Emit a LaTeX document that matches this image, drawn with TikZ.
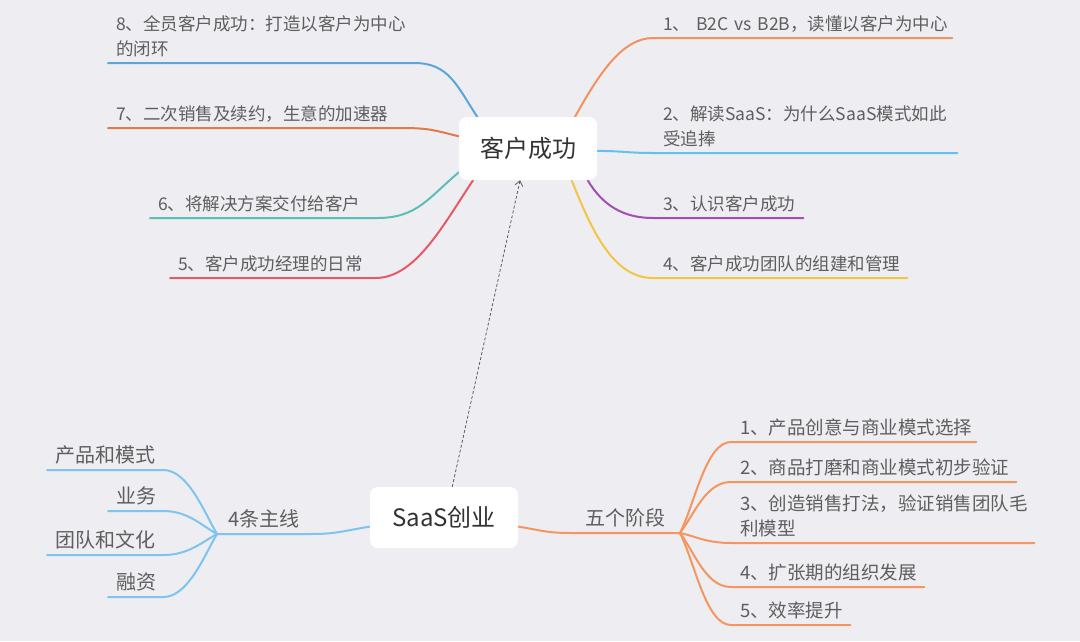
\documentclass[tikz,border=0pt]{standalone}
\usepackage{fontspec}
\setmainfont{Noto Sans CJK SC}
\usepackage{tikz}
\usetikzlibrary{positioning,calc,backgrounds,arrows.meta}

\definecolor{bggray}{HTML}{EEEEF2}
\definecolor{rootgray}{HTML}{333333}
\definecolor{leafgray}{HTML}{5E5E5E}
\definecolor{lineblue}{HTML}{5AA6DA}
\definecolor{linerust}{HTML}{E07A4A}
\definecolor{lineteal}{HTML}{5BBFB5}
\definecolor{linered}{HTML}{E65A66}
\definecolor{lineorange}{HTML}{F39260}
\definecolor{linesky}{HTML}{5EC3EE}
\definecolor{linepurple}{HTML}{A34DB5}
\definecolor{lineyellow}{HTML}{F3C546}
\definecolor{mainlineblue}{HTML}{7DC4EE}
\definecolor{stageorange}{HTML}{F5955F}

\tikzset{
  rootbox/.style={fill=white, rounded corners=8pt, inner sep=0pt, text=rootgray,
    font=\fontsize{24}{30}\selectfont},
  leaf/.style={anchor=south west, inner xsep=8pt, inner ysep=0pt, align=left, text=leafgray,
    font=\fontsize{17.5}{25}\selectfont, execute at begin node=\strut, execute at end node=\strut},
  bigleaf/.style={leaf, font=\fontsize{20}{25}\selectfont, align=right},
  stageleaf/.style={leaf, inner xsep=9pt, font=\fontsize{18.5}{24.5}\selectfont},
  hub/.style={inner sep=0pt, text=leafgray, font=\fontsize{20}{25.5}\selectfont,
    execute at begin node=\strut},
  branch/.style={line width=2pt, line cap=round},
  link/.style={draw=leafgray, line width=0.8pt, dash pattern=on 3pt off 2pt,
    -{Straight Barb[length=5pt,width=8pt]}}
}

\begin{document}
\begin{tikzpicture}[x=1pt, y=-1pt]
  \useasboundingbox (0,0) rectangle (1080,641);

  % two centres
  \node[rootbox, minimum width=138pt, minimum height=63pt] (cs) at (528,148.5) {客户成功};
  \node[rootbox, minimum width=148pt, minimum height=61pt] (saas) at (444,517.5) {SaaS创业};

  % chapters of the book, left side
  \node[leaf, text width=290pt] (l8) at (108,63) {8、全员客户成功：打造以客户为中心\\的闭环};
  \node[leaf, text width=276pt] (l7) at (108,128) {7、二次销售及续约，生意的加速器};
  \node[leaf, text width=211pt] (l6) at (150,218) {6、将解决方案交付给客户};
  \node[leaf, text width=189pt] (l5) at (170,278) {5、客户成功经理的日常};

  % chapters, right side
  \node[leaf, inner xsep=10pt, text width=279pt] (r1) at (653,38) {1、~B2C~vs~B2B，读懂以客户为中心};
  \node[leaf, inner xsep=10pt, text width=284pt] (r2) at (653,153) {2、解读SaaS：为什么SaaS模式如此\\受追捧};
  \node[leaf, inner xsep=10pt, text width=130pt] (r3) at (653,218) {3、认识客户成功};
  \node[leaf, inner xsep=10pt, text width=234pt] (r4) at (653,278) {4、客户成功团队的组建和管理};

  % 4条主线
  \node[hub, anchor=south west, minimum width=93pt] (mainline) at (217,534) {4条主线};
  \node[bigleaf, text width=100pt] (bl1) at (47,470) {产品和模式};
  \node[bigleaf, text width=39pt] (bl2) at (108,511) {业务};
  \node[bigleaf, text width=100pt] (bl3) at (47,555) {团队和文化};
  \node[bigleaf, text width=39pt] (bl4) at (108,597) {融资};

  % 五个阶段
  \node[hub, anchor=south east, minimum width=108pt] (stages) at (680,533) {五个阶段};
  \node[stageleaf, text width=227pt] (br1) at (731,442) {1、产品创意与商业模式选择};
  \node[stageleaf, text width=267pt] (br2) at (731,482) {2、商品打磨和商业模式初步验证};
  \node[stageleaf, text width=285pt] (br3) at (731,543) {3、创造销售打法，验证销售团队毛\\利模型};
  \node[stageleaf, text width=175pt] (br4) at (731,587) {4、扩张期的组织发展};
  \node[stageleaf, text width=101pt] (br5) at (731,625) {5、效率提升};

  \begin{scope}[on background layer]
    \fill[bggray] (0,0) rectangle (1080,641);

    \draw[branch, lineblue] (l8.south west) -- (l8.south east) .. controls +(35,0) and +(-20,-30) .. (cs.148);
    \draw[branch, linerust] (l7.south west) -- (l7.south east) .. controls +(30,0) and +(-25,-6) .. (cs.170);
    \draw[branch, lineteal] (l6.south west) -- (l6.south east) .. controls +(40,0) and +(-30,25) .. (cs.199);
    \draw[branch, linered] (l5.south west) -- (l5.south east) .. controls +(40,0) and +(-30,45) .. (cs.210);

    \draw[branch, lineorange] (cs.34) .. controls +(25,-45) and +(-30,0) .. (r1.south west) -- (r1.south east);
    \draw[branch, linesky] (cs.358) .. controls +(25,0) and +(-25,0) .. (r2.south west) -- (r2.south east);
    \draw[branch, linepurple] (cs.332) .. controls +(15,25) and +(-30,0) .. (r3.south west) -- (r3.south east);
    \draw[branch, lineyellow] (cs.324) .. controls +(20,50) and +(-40,0) .. (r4.south west) -- (r4.south east);

    \draw[branch, mainlineblue] (saas.187) .. controls +(-30,5) and +(25,0) .. (mainline.south east) -- (mainline.south west);
    \draw[branch, mainlineblue] (mainline.south west) .. controls +(-12,-20) and +(25,0) .. (bl1.south east) -- (bl1.south west);
    \draw[branch, mainlineblue] (mainline.south west) .. controls +(-15,-8) and +(25,0) .. (bl2.south east) -- (bl2.south west);
    \draw[branch, mainlineblue] (mainline.south west) .. controls +(-15,8) and +(25,0) .. (bl3.south east) -- (bl3.south west);
    \draw[branch, mainlineblue] (mainline.south west) .. controls +(-12,20) and +(25,0) .. (bl4.south east) -- (bl4.south west);

    \draw[branch, stageorange] (saas.353) .. controls +(25,4) and +(-25,0) .. (stages.south west) -- (stages.south east);
    \draw[branch, stageorange] (stages.south east) .. controls +(15,-30) and +(-25,0) .. (br1.south west) -- (br1.south east);
    \draw[branch, stageorange] (stages.south east) .. controls +(15,-20) and +(-25,0) .. (br2.south west) -- (br2.south east);
    \draw[branch, stageorange] (stages.south east) .. controls +(15,3) and +(-25,0) .. (br3.south west) -- (br3.south east);
    \draw[branch, stageorange] (stages.south east) .. controls +(15,20) and +(-25,0) .. (br4.south west) -- (br4.south east);
    \draw[branch, stageorange] (stages.south east) .. controls +(15,30) and +(-25,0) .. (br5.south west) -- (br5.south east);

    \draw[link] (saas.75) -- (cs.256);
  \end{scope}
\end{tikzpicture}
\end{document}
